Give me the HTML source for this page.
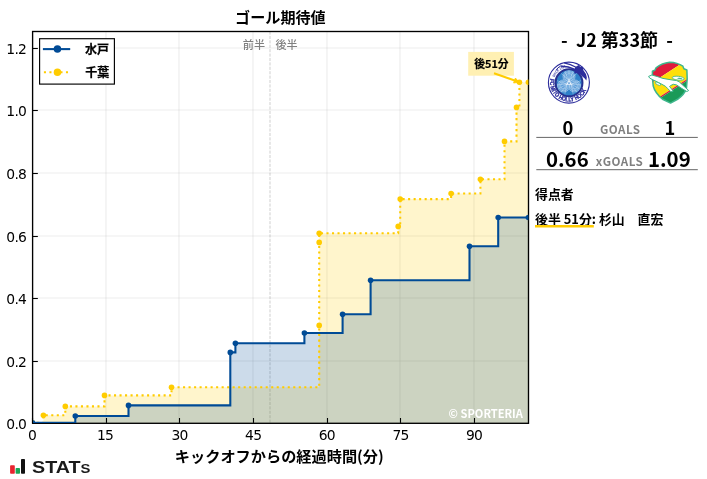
<!DOCTYPE html>
<html lang="ja">
<head>
<meta charset="utf-8">
<title>ゴール期待値</title>
<style>
html,body{margin:0;padding:0;background:#fff;}
body{width:707px;height:479px;overflow:hidden;}
svg{display:block;}
.dv{font-family:"DejaVu Sans","Liberation Sans",sans-serif;}
.jp{font-family:"Noto Sans CJK JP","Liberation Sans",sans-serif;}
</style>
</head>
<body>
<svg width="707" height="479" viewBox="0 0 707 479">
<rect x="0" y="0" width="707" height="479" fill="#ffffff"/>
<defs><clipPath id="ax"><rect x="33.05" y="31.5" width="495.34999999999997" height="391.4"/></clipPath></defs>

<g stroke="#b0b0b0" stroke-opacity="0.24" stroke-width="1.11" fill="none">
<line x1="106.00" y1="31.5" x2="106.00" y2="422.9"/>
<line x1="179.00" y1="31.5" x2="179.00" y2="422.9"/>
<line x1="253.00" y1="31.5" x2="253.00" y2="422.9"/>
<line x1="327.00" y1="31.5" x2="327.00" y2="422.9"/>
<line x1="400.00" y1="31.5" x2="400.00" y2="422.9"/>
<line x1="474.00" y1="31.5" x2="474.00" y2="422.9"/>
<line x1="32.55" y1="361.00" x2="528.4" y2="361.00"/>
<line x1="32.55" y1="298.00" x2="528.4" y2="298.00"/>
<line x1="32.55" y1="236.00" x2="528.4" y2="236.00"/>
<line x1="32.55" y1="173.00" x2="528.4" y2="173.00"/>
<line x1="32.55" y1="110.00" x2="528.4" y2="110.00"/>
<line x1="32.55" y1="48.00" x2="528.4" y2="48.00"/>
</g>
<line x1="270.0" y1="31.5" x2="270.0" y2="422.9" stroke="#808080" stroke-opacity="0.42" stroke-width="0.9" stroke-dasharray="3.08,1.33"/>
<g clip-path="url(#ax)">
<path d="M32.5,422.9 H43.4 V415.3 H65.3 V406.4 H104.5 V395.4 H171.5 V387.3 H319.2 V325.4 H319.2 V242.4 H319.2 V233.2 H398.2 V226.4 H400.2 V199.1 H451.1 V193.5 H480.4 V179.3 H504.5 V141.4 H516.5 V107.4 H519.4 V82.2 H528.4 V422.9 Z" fill="#FFCC00" fill-opacity="0.2"/>
<path d="M32.5,422.9 H75.3 V416.0 H128.5 V405.4 H230.3 V352.4 H235.4 V343.3 H304.4 V333.0 H342.6 V314.2 H370.6 V280.3 H469.5 V246.2 H498.2 V217.5 H528.4 V422.9 Z" fill="#004B96" fill-opacity="0.2"/>
</g>
<text class="jp" x="522.9" y="418" font-size="11.4" font-weight="700" fill="#ffffff" text-anchor="end" textLength="74.3" lengthAdjust="spacingAndGlyphs">© SPORTERIA</text>
<text class="jp" x="265" y="48.8" font-size="11.1" font-weight="500" fill="#808080" text-anchor="end">前半</text>
<text class="jp" x="275.5" y="48.8" font-size="11.1" font-weight="500" fill="#808080">後半</text>
<g stroke="#000" stroke-width="1.1">
<line x1="32.50" y1="422.9" x2="32.50" y2="418.0"/>
<line x1="106.50" y1="422.9" x2="106.50" y2="418.0"/>
<line x1="179.50" y1="422.9" x2="179.50" y2="418.0"/>
<line x1="253.50" y1="422.9" x2="253.50" y2="418.0"/>
<line x1="327.50" y1="422.9" x2="327.50" y2="418.0"/>
<line x1="400.50" y1="422.9" x2="400.50" y2="418.0"/>
<line x1="474.50" y1="422.9" x2="474.50" y2="418.0"/>
<line x1="32.55" y1="361.50" x2="37.849999999999994" y2="361.50"/>
<line x1="32.55" y1="298.50" x2="37.849999999999994" y2="298.50"/>
<line x1="32.55" y1="236.50" x2="37.849999999999994" y2="236.50"/>
<line x1="32.55" y1="173.50" x2="37.849999999999994" y2="173.50"/>
<line x1="32.55" y1="110.50" x2="37.849999999999994" y2="110.50"/>
<line x1="32.55" y1="48.50" x2="37.849999999999994" y2="48.50"/>
</g>
<rect x="32.6" y="31.5" width="495.9" height="391.8" fill="none" stroke="#000" stroke-width="1.35"/>
<g clip-path="url(#ax)">
<path d="M32.5,422.9 H43.4 V415.3 H65.3 V406.4 H104.5 V395.4 H171.5 V387.3 H319.2 V325.4 H319.2 V242.4 H319.2 V233.2 H398.2 V226.4 H400.2 V199.1 H451.1 V193.5 H480.4 V179.3 H504.5 V141.4 H516.5 V107.4 H519.4 V82.2" fill="none" stroke="#FFCC00" stroke-width="2.08" stroke-dasharray="2.08,3.43" stroke-dashoffset="1.2"/>
<circle cx="32.5" cy="422.9" r="2.8" fill="#FFCC00"/>
<circle cx="43.4" cy="415.3" r="2.8" fill="#FFCC00"/>
<circle cx="65.3" cy="406.4" r="2.8" fill="#FFCC00"/>
<circle cx="104.5" cy="395.4" r="2.8" fill="#FFCC00"/>
<circle cx="171.5" cy="387.3" r="2.8" fill="#FFCC00"/>
<circle cx="319.2" cy="325.4" r="2.8" fill="#FFCC00"/>
<circle cx="319.2" cy="242.4" r="2.8" fill="#FFCC00"/>
<circle cx="319.2" cy="233.2" r="2.8" fill="#FFCC00"/>
<circle cx="398.2" cy="226.4" r="2.8" fill="#FFCC00"/>
<circle cx="400.2" cy="199.1" r="2.8" fill="#FFCC00"/>
<circle cx="451.1" cy="193.5" r="2.8" fill="#FFCC00"/>
<circle cx="480.4" cy="179.3" r="2.8" fill="#FFCC00"/>
<circle cx="504.5" cy="141.4" r="2.8" fill="#FFCC00"/>
<circle cx="516.5" cy="107.4" r="2.8" fill="#FFCC00"/>
<circle cx="519.4" cy="82.2" r="2.8" fill="#FFCC00"/>
<circle cx="528.4" cy="82.2" r="2.8" fill="#FFCC00"/>
<path d="M32.5,422.9 H75.3 V416.0 H128.5 V405.4 H230.3 V352.4 H235.4 V343.3 H304.4 V333.0 H342.6 V314.2 H370.6 V280.3 H469.5 V246.2 H498.2 V217.5 H528.4" fill="none" stroke="#004B96" stroke-width="2.08" stroke-linejoin="miter"/>
<circle cx="32.5" cy="422.9" r="2.8" fill="#004B96"/>
<circle cx="75.3" cy="416.0" r="2.8" fill="#004B96"/>
<circle cx="128.5" cy="405.4" r="2.8" fill="#004B96"/>
<circle cx="230.3" cy="352.4" r="2.8" fill="#004B96"/>
<circle cx="235.4" cy="343.3" r="2.8" fill="#004B96"/>
<circle cx="304.4" cy="333.0" r="2.8" fill="#004B96"/>
<circle cx="342.6" cy="314.2" r="2.8" fill="#004B96"/>
<circle cx="370.6" cy="280.3" r="2.8" fill="#004B96"/>
<circle cx="469.5" cy="246.2" r="2.8" fill="#004B96"/>
<circle cx="498.2" cy="217.5" r="2.8" fill="#004B96"/>
<circle cx="528.4" cy="217.5" r="2.8" fill="#004B96"/>
</g>
<g class="dv" font-size="13.89" letter-spacing="-0.75" fill="#000">
<text x="32.10" y="440.2" text-anchor="middle">0</text>
<text x="105.09" y="440.2" text-anchor="middle">15</text>
<text x="179.53" y="440.2" text-anchor="middle">30</text>
<text x="253.17" y="440.2" text-anchor="middle">45</text>
<text x="326.81" y="440.2" text-anchor="middle">60</text>
<text x="400.46" y="440.2" text-anchor="middle">75</text>
<text x="474.10" y="440.2" text-anchor="middle">90</text>
<text x="26.2" y="428.50" text-anchor="end">0.0</text>
<text x="26.2" y="366.80" text-anchor="end">0.2</text>
<text x="26.2" y="303.80" text-anchor="end">0.4</text>
<text x="26.2" y="241.80" text-anchor="end">0.6</text>
<text x="26.2" y="178.80" text-anchor="end">0.8</text>
<text x="26.2" y="115.80" text-anchor="end">1.0</text>
<text x="26.2" y="53.80" text-anchor="end">1.2</text>
</g>
<text class="jp" x="280.4" y="22.6" font-size="15.1" font-weight="700" text-anchor="middle" fill="#000">ゴール期待値</text>
<text class="jp" x="279.3" y="461.6" font-size="15.2" font-weight="700" text-anchor="middle" fill="#000">キックオフからの経過時間(分)</text>
<g>
<rect x="39.6" y="38.7" width="74.8" height="45.4" fill="#fff" stroke="#000" stroke-width="1.15"/>
<line x1="42.9" y1="49.1" x2="70.2" y2="49.1" stroke="#004B96" stroke-width="2.08"/>
<circle cx="57.45" cy="49.1" r="3.75" fill="#004B96"/>
<line x1="43.9" y1="72.2" x2="70.2" y2="72.2" stroke="#FFCC00" stroke-width="2.08" stroke-dasharray="2.08,3.43"/>
<circle cx="57.45" cy="72.2" r="3.75" fill="#FFCC00"/>
<text class="jp" x="85" y="53.8" font-size="12" font-weight="700" fill="#000" stroke="#000" stroke-width="0.25">水戸</text>
<text class="jp" x="85.2" y="77" font-size="12" font-weight="700" fill="#000" stroke="#000" stroke-width="0.25">千葉</text>
</g>
<rect x="468.2" y="51.9" width="45.7" height="23.8" fill="#FFF0B3"/>
<line x1="494" y1="73.2" x2="516" y2="81" stroke="#FFCC00" stroke-width="2.0"/>
<polygon points="519.2,82.2 513.6,83.0 515.4,78.0" fill="#FFCC00" stroke="#FFCC00" stroke-width="0.8" stroke-linejoin="round"/>
<text class="jp" x="491.4" y="68" font-size="10.8" font-weight="700" text-anchor="middle" fill="#000" stroke="#000" stroke-width="0.2">後51分</text>
<rect x="10.1" y="465.3" width="4.7" height="8.4" rx="0.8" fill="#e8232f"/>
<rect x="15.6" y="468" width="4.4" height="5.7" rx="0.8" fill="#1aa556"/>
<rect x="21" y="459.1" width="4" height="14.6" rx="0.8" fill="#111"/>
<text x="32.0" y="473.2" font-family="'Liberation Sans',sans-serif" font-size="17.3" font-weight="700" fill="#1a1a1a" textLength="58.4" lengthAdjust="spacingAndGlyphs">STAT<tspan font-size="19.1" font-variant="small-caps">s</tspan></text>
<text class="jp" x="617" y="46.5" font-size="18" font-weight="700" text-anchor="middle" fill="#000" xml:space="preserve">-  J2 第33節  -</text>
<g>
<circle cx="568.9" cy="82.6" r="20.5" fill="#ffffff" stroke="#2b2c9c" stroke-width="1.1"/>
<path id="mitoarc" d="M550.41,78.67 A18.9,18.9 0 0 0 586.17,90.29" fill="none"/>
<text font-family="'Liberation Sans',sans-serif" font-size="6.0" font-weight="700" fill="#2b2c9c" stroke="#2b2c9c" stroke-width="0.3"><textPath href="#mitoarc" startOffset="0" textLength="55.4" lengthAdjust="spacingAndGlyphs">FC MITO HOLLY HOCK</textPath></text>
<path id="mitoarc2" d="M554.43,77.33 A15.4,15.4 0 0 1 565.70,67.54" fill="none"/>
<text font-family="'Liberation Sans',sans-serif" font-size="3.4" font-weight="700" fill="#2b2c9c"><textPath href="#mitoarc2" startOffset="0" textLength="15.6" lengthAdjust="spacingAndGlyphs">SINCE 1994</textPath></text>
<circle cx="569.0" cy="82.8" r="13.5" fill="#2f80c8" stroke="#27308f" stroke-width="1.9"/>
<path d="M556.4,78.0 A13.4,13.4 0 0 0 559.3,92.6 A16.5,16.5 0 0 1 556.4,78.0 Z" fill="#27308f" stroke="#27308f" stroke-width="1.0"/>
<clipPath id="mitoclip"><circle cx="569.0" cy="82.8" r="12.6"/></clipPath>
<g clip-path="url(#mitoclip)">
<g fill="#5f9fda" stroke="#c4ddf3" stroke-width="0.5">
<circle cx="569.00" cy="76.50" r="6.1"/><circle cx="574.46" cy="85.95" r="6.1"/><circle cx="563.54" cy="85.95" r="6.1"/>
</g>
<path d="M569.00,80.30 L561.16,73.45 M569.00,80.30 L564.83,71.34 M569.00,80.30 L569.00,70.60 M569.00,80.30 L573.17,71.34 M569.00,80.30 L576.84,73.45 M566.00,76.50 A3.0,3.0 0 1 1 572.00,76.50 A3.0,3.0 0 1 1 566.00,76.50 M564.40,76.50 A4.6,4.6 0 1 1 573.60,76.50 A4.6,4.6 0 1 1 564.40,76.50 M571.17,84.05 L581.01,80.68 M571.17,84.05 L581.01,84.92 M571.17,84.05 L579.57,88.90 M571.17,84.05 L576.84,92.15 M571.17,84.05 L573.17,94.26 M571.46,85.95 A3.0,3.0 0 1 1 577.46,85.95 A3.0,3.0 0 1 1 571.46,85.95 M569.86,85.95 A4.6,4.6 0 1 1 579.06,85.95 A4.6,4.6 0 1 1 569.86,85.95 M566.83,84.05 L564.83,94.26 M566.83,84.05 L561.16,92.15 M566.83,84.05 L558.43,88.90 M566.83,84.05 L556.99,84.92 M566.83,84.05 L556.99,80.68 M560.54,85.95 A3.0,3.0 0 1 1 566.54,85.95 A3.0,3.0 0 1 1 560.54,85.95 M558.94,85.95 A4.6,4.6 0 1 1 568.14,85.95 A4.6,4.6 0 1 1 558.94,85.95" stroke="#e6f1fb" stroke-width="0.5" fill="none" opacity="0.75"/>
<polygon points="569.0,79.6 571.9,84.7 566.1,84.7" fill="#eef5fc"/>
<polygon points="569.0,81.6 570.2,83.7 567.8,83.7" fill="#5a9ad6"/>
</g>
<path d="M575.2,67.2 L578.6,64.9 L580.4,67.0 L582.6,66.4 L583.4,70.2 Q586.2,73.4 586.8,77.2 L586.4,80.6 Q584.6,77.6 582.4,76.4 Q580.6,73.6 577.4,73.0 L574.0,73.6 Q575.4,71.4 574.6,69.6 Z" fill="#2b2c9c"/>
<path d="M576.6,67.4 Q570.5,64.0 564.0,62.9" stroke="#2b2c9c" stroke-width="1.1" fill="none"/>
<path d="M575.6,69.6 Q568.5,66.2 560.6,66.0" stroke="#2b2c9c" stroke-width="1.5" fill="none"/>
<path d="M560.6,66.0 Q557.6,67.6 556.0,70.4" stroke="#2b2c9c" stroke-width="1.0" fill="none"/>
</g>
<g>
<clipPath id="jefclip"><path d="M 656.02,67.82 Q 662.04,63.01 669.55,62.21 Q 677.57,62.51 682.88,66.22 L 683.88,68.82 L 686.89,70.02 Q 687.69,79.04 686.48,88.06 Q 684.58,94.57 677.57,99.28 L 670.55,103.09 L 662.54,99.28 Q 655.02,93.07 653.22,86.06 Q 652.02,78.04 652.42,71.23 L 654.82,70.22 Z"/></clipPath>
<g clip-path="url(#jefclip)">
<polygon points="644.00,58.00 704.12,58.00 704.12,48.81 644.00,87.89" fill="#e01a3c"/>
<polygon points="644.00,87.89 704.12,48.81 704.12,67.92 644.00,107.00" fill="#ffdf0a"/>
<polygon points="644.00,107.00 704.12,67.92 704.12,69.52 644.00,108.60" fill="#e01a3c"/>
<polygon points="644.00,108.60 704.12,69.52 704.12,118.12 644.00,118.12" fill="#1a9a58"/>
</g>
<path d="M 656.02,67.82 Q 662.04,63.01 669.55,62.21 Q 677.57,62.51 682.88,66.22 L 683.88,68.82 L 686.89,70.02 Q 687.69,79.04 686.48,88.06 Q 684.58,94.57 677.57,99.28 L 670.55,103.09 L 662.54,99.28 Q 655.02,93.07 653.22,86.06 Q 652.02,78.04 652.42,71.23 L 654.82,70.22 Z" fill="none" stroke="#3eb68c" stroke-width="1.5" stroke-linejoin="round"/>
<path d="M648.60,76.33 L651.86,75.03 L657.06,76.46 L662.92,78.41 L672.02,79.97 L676.58,80.62 L679.18,81.79 L682.82,85.18 L688.68,90.51 L686.86,91.55 L681.13,88.04 L676.58,84.92 L673.33,84.27 L670.59,85.57 L669.55,86.48 L671.63,89.08 L673.20,91.16 L670.98,91.81 L667.86,88.69 L665.52,86.35 L661.88,84.27 L657.45,81.92 L652.90,79.84 L649.64,78.02 Z" fill="#ffffff" stroke="#3eb68c" stroke-width="1.0" stroke-linejoin="round"/>
<ellipse cx="678.21" cy="78.21" rx="6.0" ry="1.9" fill="#ffffff" stroke="#3eb68c" stroke-width="0.8" transform="rotate(6 678.21 78.21)"/>
<ellipse cx="679.83" cy="78.41" rx="2.6" ry="0.7" fill="#3eb68c" transform="rotate(6 679.83 78.41)"/>
<ellipse cx="658.04" cy="83.81" rx="3.0" ry="1.1" fill="#ffffff" stroke="#3eb68c" stroke-width="0.7" transform="rotate(25 658.04 83.81)"/>
</g>
<g class="jp" fill="#000" font-weight="700">
<text x="567.8" y="134.9" font-size="18.3" text-anchor="middle">0</text>
<text x="670" y="134.9" font-size="18.3" text-anchor="middle">1</text>
<text x="620.3" y="134.3" font-size="11.6" letter-spacing="0.5" text-anchor="middle" fill="#808080">GOALS</text>
<text x="567.3" y="166.5" font-size="20.4" text-anchor="middle">0.66</text>
<text x="669.3" y="166.5" font-size="20.4" text-anchor="middle">1.09</text>
<text x="619.6" y="165.9" font-size="11.6" letter-spacing="0.5" text-anchor="middle" fill="#808080">xGOALS</text>
<text x="535" y="199.3" font-size="12.9">得点者</text>
<text x="535" y="223.6" font-size="12.9">後半 51分: 杉山　直宏</text>
</g>
<line x1="536.3" y1="137.4" x2="697.8" y2="137.4" stroke="#666" stroke-width="1"/>
<line x1="536.3" y1="169.7" x2="697.8" y2="169.7" stroke="#666" stroke-width="1"/>
<line x1="535" y1="226.2" x2="593.8" y2="226.2" stroke="#FFCC00" stroke-width="2.4"/>
</svg>
</body>
</html>
